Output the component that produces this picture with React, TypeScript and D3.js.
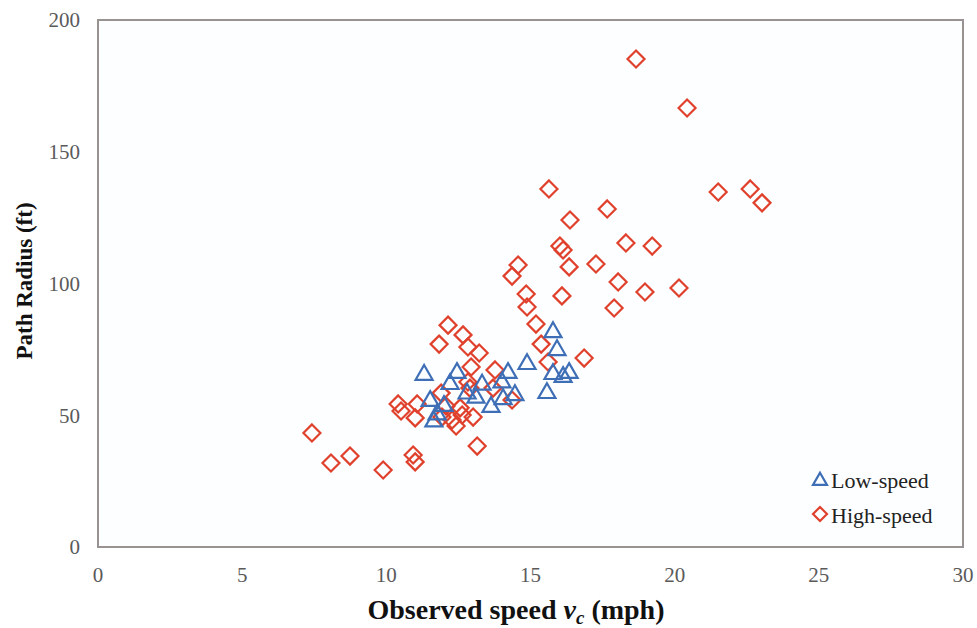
import React from "react";
import * as d3 from "d3";

const lowSpeedX = [11.31, 12.45, 12.21, 13.32, 12.8, 11.52, 11.76, 11.65, 13.63, 14.01, 14.22, 14.46, 14.05, 14.88, 15.78, 15.92, 15.78, 16.13, 16.34, 15.57, 13.11, 12.0];
const lowSpeedY = [65.7, 66.4, 62.2, 62.0, 58.6, 55.8, 50.7, 48.0, 53.5, 62.8, 66.4, 58.0, 56.5, 69.8, 81.9, 75.1, 66.0, 64.9, 66.4, 58.8, 57.0, 53.9];

const highSpeedX = [18.66, 20.43, 15.64, 21.51, 22.62, 23.03, 17.66, 16.37, 18.31, 19.22, 16.02, 16.13, 14.57, 14.36, 16.34, 17.27, 18.04, 18.97, 20.15, 14.85, 16.09, 14.88, 17.9, 15.19, 12.14, 12.66, 15.37, 11.83, 12.83, 13.22, 16.86, 15.61, 12.94, 13.77, 12.83, 12.9, 13.7, 14.36, 10.41, 11.07, 11.9, 10.51, 11.0, 12.07, 11.93, 12.28, 12.56, 13.01, 12.42, 13.15, 7.42, 8.08, 8.74, 9.89, 10.93, 11.0, 12.63];
const highSpeedY = [185.2, 166.6, 135.9, 134.7, 135.9, 130.6, 128.3, 124.1, 115.4, 114.2, 114.2, 112.7, 107.0, 102.8, 106.3, 107.4, 100.6, 96.8, 98.3, 96.0, 95.3, 91.1, 90.7, 84.6, 84.2, 80.5, 77.0, 77.0, 75.9, 73.6, 71.7, 70.2, 68.3, 67.2, 62.6, 60.3, 60.3, 55.8, 54.3, 54.3, 58.4, 51.6, 49.0, 53.5, 49.3, 48.2, 52.8, 49.3, 45.9, 38.3, 43.3, 31.9, 34.5, 29.2, 34.9, 32.3, 50.1];

const xTicks = [0, 5, 10, 15, 20, 25, 30];
const yTicks = [0, 50, 100, 150, 200];
const legendLabels = ["Low-speed", "High-speed"];

const W = 977;
const H = 628;
const left = 98;
const right = 963;
const top = 20;
const bottom = 547;

const BLUE = "#3e6fb6";
const RED = "#e0412c";
const GRAY = "#5a5a5a";
const FRAME = "#989391";
const FONT = "'Liberation Serif', 'Times New Roman', serif";

function triPath(cx: number, cy: number, s: number) {
  const h = s * 0.87;
  return `M${cx},${cy - h * 0.6}L${cx + s / 2},${cy + h * 0.4}L${cx - s / 2},${cy + h * 0.4}Z`;
}
function diaPath(cx: number, cy: number, r: number) {
  return `M${cx},${cy - r}L${cx + r},${cy}L${cx},${cy + r}L${cx - r},${cy}Z`;
}

export default function App() {
  const x = d3.scaleLinear().domain([0, 30]).range([left, right]);
  const y = d3.scaleLinear().domain([0, 200]).range([bottom, top]);

  return (
    <svg width={W} height={H} style={{ display: "block", position: "absolute", left: 0, top: 0, background: "#fff" }}>
      <rect x={left} y={top} width={right - left} height={bottom - top} fill="#fdfeff" stroke={FRAME} strokeWidth={2} />
      {yTicks.map((t) => (
        <text key={"y" + t} x={80} y={y(t)} dy="0.35em" textAnchor="end" fontFamily={FONT} fontSize={21} fill={GRAY}>
          {t}
        </text>
      ))}
      {xTicks.map((t) => (
        <text key={"x" + t} x={x(t)} y={575} dy="0.35em" textAnchor="middle" fontFamily={FONT} fontSize={21} fill={GRAY}>
          {t}
        </text>
      ))}
      <text x={516} y={619} textAnchor="middle" fontFamily={FONT} fontSize={28} fontWeight="bold" fill="#111">
        Observed speed <tspan fontStyle="italic">v</tspan>
        <tspan fontStyle="italic" fontSize={19} dy={5}>c</tspan>
        <tspan dy={-5}> (mph)</tspan>
      </text>
      <text transform={`translate(32,${281}) rotate(-90)`} textAnchor="middle" fontFamily={FONT} fontSize={23} fontWeight="bold" fill="#111">
        Path Radius (ft)
      </text>
      <g fill="none" strokeWidth={2.2}>
        {highSpeedX.map((v, i) => (
          <path key={"h" + i} d={diaPath(x(v), y(highSpeedY[i]), 8.5)} stroke={RED} />
        ))}
        {lowSpeedX.map((v, i) => (
          <path key={"l" + i} d={triPath(x(v), y(lowSpeedY[i]), 17)} stroke={BLUE} />
        ))}
      </g>
      <g fill="none" strokeWidth={2.2}>
        <path d={triPath(820, 480, 14)} stroke={BLUE} />
        <path d={diaPath(820, 514, 7)} stroke={RED} />
      </g>
      {legendLabels.map((l, i) => (
        <text key={l} x={831} y={480 + i * 35} dy="0.35em" fontFamily={FONT} fontSize={22} fill="#222">
          {l}
        </text>
      ))}
    </svg>
  );
}
